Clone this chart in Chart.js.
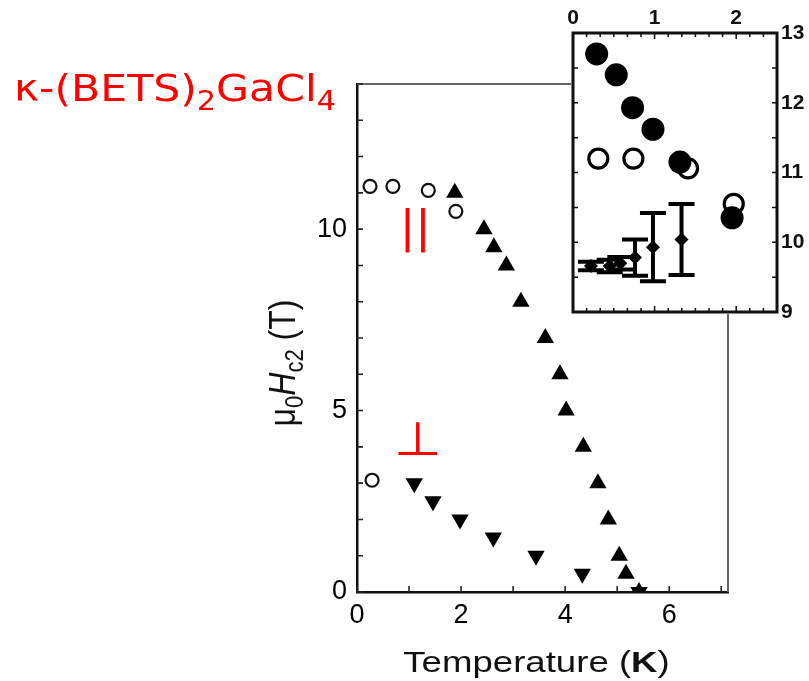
<!DOCTYPE html>
<html><head><meta charset="utf-8">
<script src="https://cdn.jsdelivr.net/npm/chart.js@4.4.1/dist/chart.umd.min.js"></script>
<style>
html,body{margin:0;padding:0;background:#fff;}
#wrap{position:relative;width:809px;height:681px;overflow:hidden;background:#fff;}
#main{position:absolute;left:0;top:0;}
#inset{position:absolute;left:540px;top:0;}
</style></head><body>
<div id="wrap">
<canvas id="main" width="809" height="681"></canvas>
<canvas id="inset" width="269" height="330"></canvas>
</div>
<script>
// ---------- main panel data ----------
const parOpenT = [0.25, 0.69, 1.37, 1.90];
const parOpenH = [11.18, 11.18, 11.07, 10.49];
const perpOpenT = [0.29];
const perpOpenH = [3.08];
const parTriT = [1.88, 2.44, 2.63, 2.87, 3.15, 3.62, 3.90, 4.02, 4.35, 4.63, 4.83, 5.04, 5.17, 5.42];
const parTriH = [11, 10, 9.5, 9, 8, 7, 6, 5, 4, 3, 2, 1, 0.5, 0];
const perpTriT = [1.10, 1.46, 1.98, 2.62, 3.44, 4.33, 5.42];
const perpTriH = [3, 2.5, 2, 1.5, 1, 0.5, 0];
const mainXTicks = [0, 1, 2, 3, 4, 5, 6, 7];
const mainXLabels = ['0', '', '2', '', '4', '', '6', ''];
const mainYTicks = [0,1,2,3,4,5,6,7,8,9,10,11,12,13,14];
const mainYLabels = ['0','','','','','5','','','','','10','','','',''];
const annoText = ['||', '\u22A5'];
const annoT = [1.125, 1.17];
const annoH = [9.97, 4.24];
const titleParts = ['\u03BA-(BETS)', '2', 'GaCl', '4'];
const xTitleParts = ['Temperature (', 'K', ')'];
const yTitleParts = ['\u03BC', '0', 'H', 'c2', ' (T)'];

// ---------- inset data ----------
const insFilledT = [0.29, 0.53, 0.73, 0.98, 1.31, 1.95];
const insFilledH = [12.70, 12.40, 11.93, 11.62, 11.15, 10.35];
const insOpenT = [0.31, 0.74, 1.41, 1.97];
const insOpenH = [11.20, 11.20, 11.06, 10.55];
const insDiaT = [0.22, 0.45, 0.58, 0.76, 0.98, 1.33];
const insDiaH = [9.66, 9.66, 9.70, 9.78, 9.93, 10.04];
const insDiaErr = [0.06, 0.09, 0.09, 0.26, 0.49, 0.51];
const insXTicks = [0,1/6,2/6,3/6,4/6,5/6,1,7/6,8/6,9/6,10/6,11/6,2,13/6,14/6];
const insXLabels = ['0','','','','','','1','','','','','','2','',''];
const insYTicks = [9,9.5,10,10.5,11,11.5,12,12.5,13];
const insYLabels = ['9','','10','','11','','12','','13'];

const pts = (xs, ys) => xs.map((v, i) => ({x: v, y: ys[i]}));
const FONT = '"Liberation Sans", Arial, sans-serif';

// ---------- main plugins ----------
const mainDeco = {
  id: 'mainDeco',
  afterDraw(chart) {
    const {ctx, chartArea: a, scales: {x, y}} = chart;
    ctx.save();
    // frame (top & right)
    ctx.strokeStyle = '#666'; ctx.lineWidth = 2;
    ctx.beginPath();
    ctx.moveTo(a.left, a.top); ctx.lineTo(a.right, a.top); ctx.lineTo(a.right, a.bottom);
    ctx.stroke();
    // inward ticks
    ctx.strokeStyle = '#222'; ctx.lineWidth = 1.6;
    ctx.beginPath();
    x.ticks.forEach(t => { const p = x.getPixelForValue(t.value); if (p <= a.right - 3) { ctx.moveTo(p, a.bottom); ctx.lineTo(p, a.bottom - 6); } });
    y.ticks.forEach(t => { const p = y.getPixelForValue(t.value); ctx.moveTo(a.left, p); ctx.lineTo(a.left + 6, p); });
    ctx.stroke();

    // x title
    ctx.fillStyle = '#111';
    ctx.textBaseline = 'alphabetic'; ctx.textAlign = 'left';
    const xf = ['30px ' + FONT, 'bold 30px ' + FONT, '30px ' + FONT];
    let tw = 0;
    xTitleParts.forEach((s, i) => { ctx.font = xf[i]; tw += ctx.measureText(s).width; });
    ctx.save();
    ctx.translate((a.left + a.right) / 2 - 6, 672);
    ctx.scale(1.22, 1);
    let cx = -tw / 2;
    xTitleParts.forEach((s, i) => { ctx.font = xf[i]; ctx.fillText(s, cx, 0); cx += ctx.measureText(s).width; });
    ctx.restore();

    // y title
    const yf = ['32px ' + FONT, '22px ' + FONT, 'italic 32px ' + FONT, '22px ' + FONT, '32px ' + FONT];
    const yd = [0, 7, 0, 7, 0];
    tw = 0;
    yTitleParts.forEach((s, i) => { ctx.font = yf[i]; tw += ctx.measureText(s).width; });
    ctx.save();
    ctx.translate(295, 363);
    ctx.scale(1.18, 1);
    ctx.rotate(-Math.PI / 2);
    cx = -tw / 2;
    yTitleParts.forEach((s, i) => { ctx.font = yf[i]; ctx.fillText(s, cx, yd[i]); cx += ctx.measureText(s).width; });
    ctx.restore();

    // annotations
    const annoBox = [[20, 45], [40, 34]];
    annoText.forEach((t, i) => {
      const px = x.getPixelForValue(annoT[i]), py = y.getPixelForValue(annoH[i]);
      ctx.save();
      ctx.font = '40px "DejaVu Sans"';
      const m = ctx.measureText(t);
      const iw = m.actualBoundingBoxLeft + m.actualBoundingBoxRight;
      const ih = m.actualBoundingBoxAscent + m.actualBoundingBoxDescent;
      ctx.translate(px, py);
      ctx.scale(annoBox[i][0] / iw, annoBox[i][1] / ih);
      ctx.fillStyle = '#ff0000';
      const icx = (m.actualBoundingBoxRight - m.actualBoundingBoxLeft) / 2;
      const icy = (m.actualBoundingBoxDescent - m.actualBoundingBoxAscent) / 2;
      ctx.fillText(t, -icx, -icy);
      ctx.restore();
    });

    // title
    ctx.fillStyle = '#ff0000';
    const tf = ['38px "DejaVu Sans"', '27px "DejaVu Sans"', '38px "DejaVu Sans"', '27px "DejaVu Sans"'];
    const td = [0, 9, 0, 9];
    tw = 0;
    titleParts.forEach((s, i) => { ctx.font = tf[i]; tw += ctx.measureText(s).width; });
    ctx.save();
    ctx.translate(14, 101);
    ctx.scale(322 / tw, 1);
    cx = 0;
    titleParts.forEach((s, i) => { ctx.font = tf[i]; ctx.fillText(s, cx, td[i]); cx += ctx.measureText(s).width; });
    ctx.restore();
    ctx.restore();
  }
};

new Chart(document.getElementById('main'), {
  type: 'scatter',
  data: {
    datasets: [
      {data: pts(parOpenT, parOpenH), pointStyle: 'circle', pointRadius: 6.5, borderWidth: 2.2, borderColor: '#111', backgroundColor: '#fff'},
      {data: pts(perpOpenT, perpOpenH), pointStyle: 'circle', pointRadius: 6.5, borderWidth: 2.2, borderColor: '#111', backgroundColor: '#fff'},
      {data: pts(parTriT, parTriH), pointStyle: 'triangle', pointRadius: 10, borderWidth: 0, borderColor: '#000', backgroundColor: '#000'},
      {data: pts(perpTriT, perpTriH), pointStyle: 'triangle', rotation: 180, pointRadius: 10, borderWidth: 0, borderColor: '#000', backgroundColor: '#000'}
    ]
  },
  options: {
    responsive: false, animation: false, devicePixelRatio: 1,
    layout: {padding: {left: 297, top: 84, right: 81, bottom: 0}},
    plugins: {legend: {display: false}, tooltip: {enabled: false}},
    scales: {
      x: {
        type: 'linear', min: 0, max: 7.13, position: 'bottom',
        afterBuildTicks: s => { s.ticks = mainXTicks.map(v => ({value: v})); },
        afterFit: s => { s.height = 89; },
        grid: {display: false, drawTicks: false},
        border: {display: true, color: '#111', width: 2.5},
        ticks: {autoSkip: false, maxRotation: 0, padding: 7, color: '#000', font: {family: FONT, size: 27},
                callback: (v, i) => mainXLabels[i]}
      },
      y: {
        type: 'linear', min: 0, max: 14, position: 'left',
        afterBuildTicks: s => { s.ticks = mainYTicks.map(v => ({value: v})); },
        afterFit: s => { s.width = 60; },
        grid: {display: false, drawTicks: false},
        border: {display: true, color: '#111', width: 2.5},
        ticks: {autoSkip: false, padding: 10, color: '#000', font: {family: FONT, size: 27},
                callback: (v, i) => mainYLabels[i]}
      }
    }
  },
  plugins: [mainDeco]
});

// ---------- inset ----------
const insetDeco = {
  id: 'insetDeco',
  beforeDatasetsDraw(chart) {
    const {ctx, scales: {x, y}} = chart;
    // error bars
    ctx.save();
    ctx.strokeStyle = '#000'; ctx.lineWidth = 4;
    ctx.beginPath();
    insDiaT.forEach((t, i) => {
      const px = x.getPixelForValue(t);
      const y1 = y.getPixelForValue(insDiaH[i] + insDiaErr[i]);
      const y2 = y.getPixelForValue(insDiaH[i] - insDiaErr[i]);
      const c = 13;
      ctx.moveTo(px, y1); ctx.lineTo(px, y2);
      ctx.moveTo(px - c, y1); ctx.lineTo(px + c, y1);
      ctx.moveTo(px - c, y2); ctx.lineTo(px + c, y2);
    });
    ctx.stroke();
    ctx.restore();
  },
  beforeDraw(chart) {
    const {ctx, chartArea: a} = chart;
    ctx.save();
    ctx.fillStyle = '#fff';
    ctx.fillRect(a.left - 2, a.top - 2, a.right - a.left + 4, a.bottom - a.top + 4);
    ctx.restore();
  },
  afterDraw(chart) {
    const {ctx, chartArea: a, scales: {x, y}} = chart;
    ctx.save();
    ctx.strokeStyle = '#111'; ctx.lineWidth = 1.5;
    ctx.beginPath();
    x.ticks.forEach((t, i) => {
      const p = x.getPixelForValue(t.value);
      const L = insXLabels[i] ? 6 : 4;
      ctx.moveTo(p, a.top); ctx.lineTo(p, a.top + L);
      ctx.moveTo(p, a.bottom); ctx.lineTo(p, a.bottom - L);
    });
    y.ticks.forEach(t => {
      const p = y.getPixelForValue(t.value);
      ctx.moveTo(a.left, p); ctx.lineTo(a.left + 5, p);
      ctx.moveTo(a.right, p); ctx.lineTo(a.right - 5, p);
    });
    ctx.stroke();
    ctx.strokeStyle = '#111'; ctx.lineWidth = 3;
    ctx.strokeRect(a.left, a.top, a.right - a.left, a.bottom - a.top);
    ctx.restore();
  }
};

new Chart(document.getElementById('inset'), {
  type: 'scatter',
  data: {
    datasets: [
      {data: pts(insFilledT, insFilledH), pointStyle: 'circle', pointRadius: 11.5, borderWidth: 0, backgroundColor: '#000', borderColor: '#000'},
      {data: pts(insOpenT, insOpenH), pointStyle: 'circle', pointRadius: 9.5, borderWidth: 3.2, backgroundColor: '#fff', borderColor: '#000'},
      {data: pts(insDiaT, insDiaH), pointStyle: 'rectRot', pointRadius: 7, borderWidth: 0, backgroundColor: '#000', borderColor: '#000'}
    ]
  },
  options: {
    responsive: false, animation: false, devicePixelRatio: 1,
    layout: {padding: {left: 33, top: 0, right: 0, bottom: 18}},
    plugins: {legend: {display: false}, tooltip: {enabled: false}},
    scales: {
      x: {
        type: 'linear', min: 0, max: 2.5, position: 'top',
        afterBuildTicks: s => { s.ticks = insXTicks.map(v => ({value: v})); },
        afterFit: s => { s.height = 33; },
        grid: {display: false, drawTicks: false},
        border: {display: false},
        ticks: {autoSkip: false, maxRotation: 0, padding: 2, color: '#111', font: {family: FONT, size: 21, weight: 'bold'},
                callback: (v, i) => insXLabels[i]}
      },
      y: {
        type: 'linear', min: 9, max: 13, position: 'right',
        afterBuildTicks: s => { s.ticks = insYTicks.map(v => ({value: v})); },
        afterFit: s => { s.width = 32; },
        grid: {display: false, drawTicks: false},
        border: {display: false},
        ticks: {autoSkip: false, padding: 4, color: '#111', font: {family: FONT, size: 21, weight: 'bold'},
                callback: (v, i) => insYLabels[i]}
      }
    }
  },
  plugins: [insetDeco]
});
</script>
</body></html>
